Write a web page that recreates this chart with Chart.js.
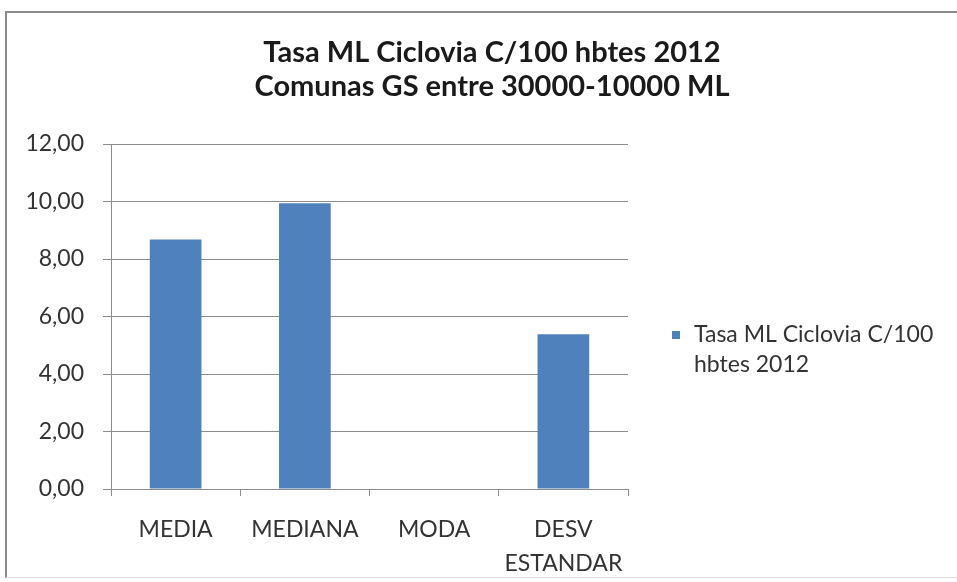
<!DOCTYPE html>
<html>
<head>
<meta charset="utf-8">
<script src="https://cdn.jsdelivr.net/npm/chart.js@4/dist/chart.umd.min.js"></script>
<style>
    html, body { margin: 0; padding: 0; background: #fff; overflow: hidden; }
    #frame {
        position: absolute; left: 5px; top: 11px;
        width: 970px; height: 564px;
        border-left: 2px solid #8c8c8c; border-top: 2px solid #8c8c8c;
        border-bottom: 1px solid #e2e2e2;
    }
</style>
</head>
<body>
<div id="frame"><canvas id="chart"></canvas></div>
<script>
const categories = ['MEDIA', 'MEDIANA', 'MODA', ['DESV', 'ESTANDAR']];
const seriesName = 'Tasa ML Ciclovia C/100 hbtes 2012';
const seriesValues = [8.68, 9.94, 0, 5.38];
const titleLines = ['Tasa ML Ciclovia C/100 hbtes 2012', 'Comunas GS entre 30000-10000 ML'];
const yMin = 0, yMax = 12, yStep = 2;

const textColor = '#333333';
const gridColor = '#8c8c8c';
const font = 'Lato';

// legend on the right, text wrapped like the original
const sideLegend = {
    id: 'sideLegend',
    afterDraw(chart) {
        const ctx = chart.ctx;
        const ds = chart.data.datasets[0];
        const x = chart.chartArea.right + 44;
        const y = 322;
        ctx.save();
        ctx.fillStyle = ds.backgroundColor;
        ctx.fillRect(x, y - 4, 8, 8);
        ctx.font = '23px ' + font;
        ctx.fillStyle = textColor;
        ctx.textBaseline = 'middle';
        const words = ds.label.split(' ');
        const lines = [];
        let line = '';
        words.forEach(w => {
            const test = line ? line + ' ' + w : w;
            if (ctx.measureText(test).width > 260 && line) {
                lines.push(line);
                line = w;
            } else {
                line = test;
            }
        });
        lines.push(line);
        lines.forEach((l, i) => ctx.fillText(l, x + 22, y + i * 30));
        ctx.restore();
    }
};

new Chart(document.getElementById('chart'), {
    type: 'bar',
    data: {
        labels: categories,
        datasets: [{
            label: seriesName,
            data: seriesValues,
            backgroundColor: '#4f81bd',
            categoryPercentage: 1,
            barPercentage: 0.4
        }]
    },
    options: {
        responsive: true,
        maintainAspectRatio: false,
        animation: false,
        plugins: {
            legend: { display: false },
            tooltip: { enabled: false },
            title: {
                display: true,
                text: titleLines,
                color: '#1a1a1a',
                font: { family: font, size: 29, weight: 'bold', lineHeight: 1.19 },
                padding: { top: 22, bottom: 40 }
            }
        },
        scales: {
            x: {
                grid: { drawOnChartArea: false, color: gridColor, tickLength: 7 },
                border: { color: gridColor },
                ticks: {
                    color: textColor,
                    padding: 16,
                    maxRotation: 0,
                    font: { family: font, size: 23, lineHeight: 1.5 }
                },
                afterFit(scale) { scale.height = 88; }
            },
            y: {
                min: yMin,
                max: yMax,
                grid: { color: gridColor, tickLength: 8 },
                border: { color: gridColor },
                ticks: {
                    stepSize: yStep,
                    color: textColor,
                    padding: 19,
                    font: { family: font, size: 23 },
                    callback: v => v.toFixed(2).replace('.', ',')
                },
                afterFit(scale) { scale.width = 104; }
            },
            // empty axis that keeps room for the legend on the right
            legendSpace: {
                type: 'linear',
                position: 'right',
                grid: { display: false },
                border: { display: false },
                ticks: { display: false },
                afterFit(scale) { scale.width = 349; }
            }
        }
    },
    plugins: [sideLegend]
});
</script>
</body>
</html>
